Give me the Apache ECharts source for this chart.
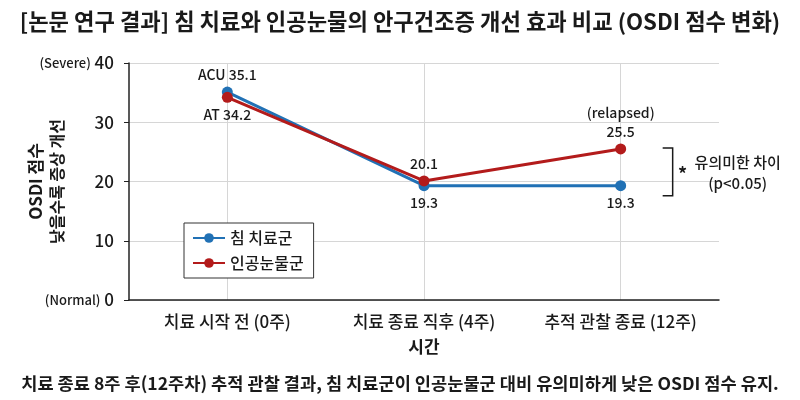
<!DOCTYPE html>
<html>
<head>
<meta charset="utf-8">
<script src="https://cdn.jsdelivr.net/npm/echarts@6/dist/echarts.min.js"></script>
<style>
  html, body { margin: 0; padding: 0; background: #fff; }
  #chart { width: 800px; height: 400px; }
</style>
</head>
<body>
<div id="chart"></div>
<script>
"use strict";
var FONT = '"Noto Sans CJK KR", "Noto Sans", sans-serif';

// data
var categories = ['치료 시작 전 (0주)', '치료 종료 직후 (4주)', '추적 관찰 종료 (12주)'];
var acuValues = [35.1, 19.3, 19.3];
var atValues = [34.2, 20.1, 25.5];
var acuLabels = ['ACU 35.1', '19.3', '19.3'];
var atLabels = ['AT 34.2', '20.1', '{s|(relapsed)}\n25.5'];
var acuLabelPos = ['top', 'bottom', 'bottom'];
var atLabelPos = ['bottom', 'top', 'top'];
var yTicks = { 0: '(Normal)', 40: '(Severe)' };

function buildData(values, labels, pos) {
    return values.map(function (v, i) {
        return {
            value: v,
            label: { position: pos[i], formatter: labels[i] }
        };
    });
}

var labelStyle = {
    show: true,
    color: '#1a1a1a',
    fontSize: 14,
    fontWeight: 500,
    fontFamily: FONT,
    distance: 4,
    lineHeight: 16,
    rich: { s: { fontSize: 14, fontWeight: 500, color: '#1a1a1a', fontFamily: FONT, lineHeight: 22 } }
};

var chart = echarts.init(document.getElementById('chart'));

var option = {
    backgroundColor: '#fff',
    animation: false,
    textStyle: { fontFamily: FONT },
    title: [{
        text: '[논문 연구 결과] 침 치료와 인공눈물의 안구건조증 개선 효과 비교 (OSDI 점수 변화)',
        left: 'center',
        top: 5,
        textStyle: { fontSize: 22.2, fontWeight: 'bold', color: '#1a1a1a', fontFamily: FONT }
    }, {
        text: '치료 종료 8주 후(12주차) 추적 관찰 결과, 침 치료군이 인공눈물군 대비 유의미하게 낮은 OSDI 점수 유지.',
        left: 'center',
        top: 370,
        textStyle: { fontSize: 17.6, fontWeight: 'bold', color: '#1a1a1a', fontFamily: FONT }
    }],
    legend: {
        orient: 'vertical',
        left: 184,
        top: 223,
        backgroundColor: '#fff',
        borderColor: '#333',
        borderWidth: 1,
        borderRadius: 0,
        padding: [7, 10, 7, 8],
        itemWidth: 32,
        itemHeight: 12,
        itemGap: 9,
        textStyle: { fontSize: 16, fontWeight: 500, color: '#1a1a1a', fontFamily: FONT },
        data: ['침 치료군', '인공눈물군']
    },
    grid: { left: 129, right: 81, top: 63, bottom: 100, containLabel: false, outerBoundsMode: 'none' },
    xAxis: {
        type: 'category',
        data: categories,
        name: '시간',
        nameLocation: 'middle',
        nameGap: 38,
        nameMoveOverlap: false,
        nameTextStyle: { fontSize: 17, fontWeight: 'bold', color: '#1a1a1a', fontFamily: FONT },
        axisLine: { lineStyle: { color: '#222', width: 1.5 } },
        axisTick: { show: false },
        axisLabel: { interval: 0, fontSize: 17, fontWeight: 500, color: '#1a1a1a', margin: 13, fontFamily: FONT },
        splitLine: { show: true, alignWithLabel: true, lineStyle: { color: '#d6d6d6', width: 1 } }
    },
    yAxis: {
        type: 'value',
        min: 0,
        max: 40,
        interval: 10,
        name: '{a|OSDI 점수}\n{b|낮을수록 증상 개선}',
        nameLocation: 'middle',
        nameRotate: 90,
        nameGap: 62,
        nameMoveOverlap: false,
        nameTextStyle: {
            rich: {
                a: { fontSize: 17, fontWeight: 'bold', color: '#1a1a1a', fontFamily: FONT, lineHeight: 22 },
                b: { fontSize: 16, fontWeight: 'bold', color: '#1a1a1a', fontFamily: FONT, lineHeight: 20 }
            }
        },
        axisLine: { show: true, lineStyle: { color: '#222', width: 1.5 } },
        axisTick: { show: true, length: 5, lineStyle: { color: '#222' } },
        axisLabel: {
            fontSize: 17,
            fontWeight: 500,
            color: '#1a1a1a',
            margin: 15,
            fontFamily: FONT,
            formatter: function (v) {
                return yTicks[v] ? '{s|' + yTicks[v] + '} ' + v : String(v);
            },
            rich: { s: { fontSize: 13, fontWeight: 500, color: '#1a1a1a', fontFamily: FONT } }
        },
        splitLine: { lineStyle: { color: '#d6d6d6', width: 1 } }
    },
    series: [{
        name: '침 치료군',
        type: 'line',
        data: buildData(acuValues, acuLabels, acuLabelPos),
        symbol: 'circle',
        symbolSize: 11,
        color: '#2171b5',
        lineStyle: { width: 3 },
        label: labelStyle,
        z: 2
    }, {
        name: '인공눈물군',
        type: 'line',
        data: buildData(atValues, atLabels, atLabelPos),
        symbol: 'circle',
        symbolSize: 11,
        color: '#b31b1b',
        lineStyle: { width: 3 },
        label: labelStyle,
        z: 3
    }]
};

chart.setOption(option);

// 유의미한 차이 bracket, placed from the last data points
var last = categories.length - 1;
var pTop = chart.convertToPixel({ seriesIndex: 1 }, [last, atValues[last]]);
var pBot = chart.convertToPixel({ seriesIndex: 0 }, [last, acuValues[last]]);
var bx = pTop[0] + 52;
var by1 = pTop[1] - 1;
var by2 = pBot[1] + 10;

chart.setOption({
    graphic: [{
        type: 'polyline',
        shape: { points: [[bx - 10, by1], [bx, by1], [bx, by2], [bx - 10, by2]] },
        style: { stroke: '#1a1a1a', lineWidth: 1.5, fill: null }
    }, {
        type: 'text',
        x: bx + 10,
        y: (by1 + by2) / 2 + 2,
        style: { text: '*', fontSize: 18, fontWeight: 'bold', fill: '#1a1a1a', align: 'center', verticalAlign: 'middle', fontFamily: FONT }
    }, {
        type: 'text',
        x: bx + 65,
        y: (by1 + by2) / 2 + 1,
        style: {
            text: '유의미한 차이\n(p<0.05)',
            fontSize: 15,
            fontWeight: 500,
            lineHeight: 21,
            fill: '#1a1a1a',
            align: 'center',
            verticalAlign: 'middle',
            fontFamily: FONT
        }
    }]
});
</script>
</body>
</html>
